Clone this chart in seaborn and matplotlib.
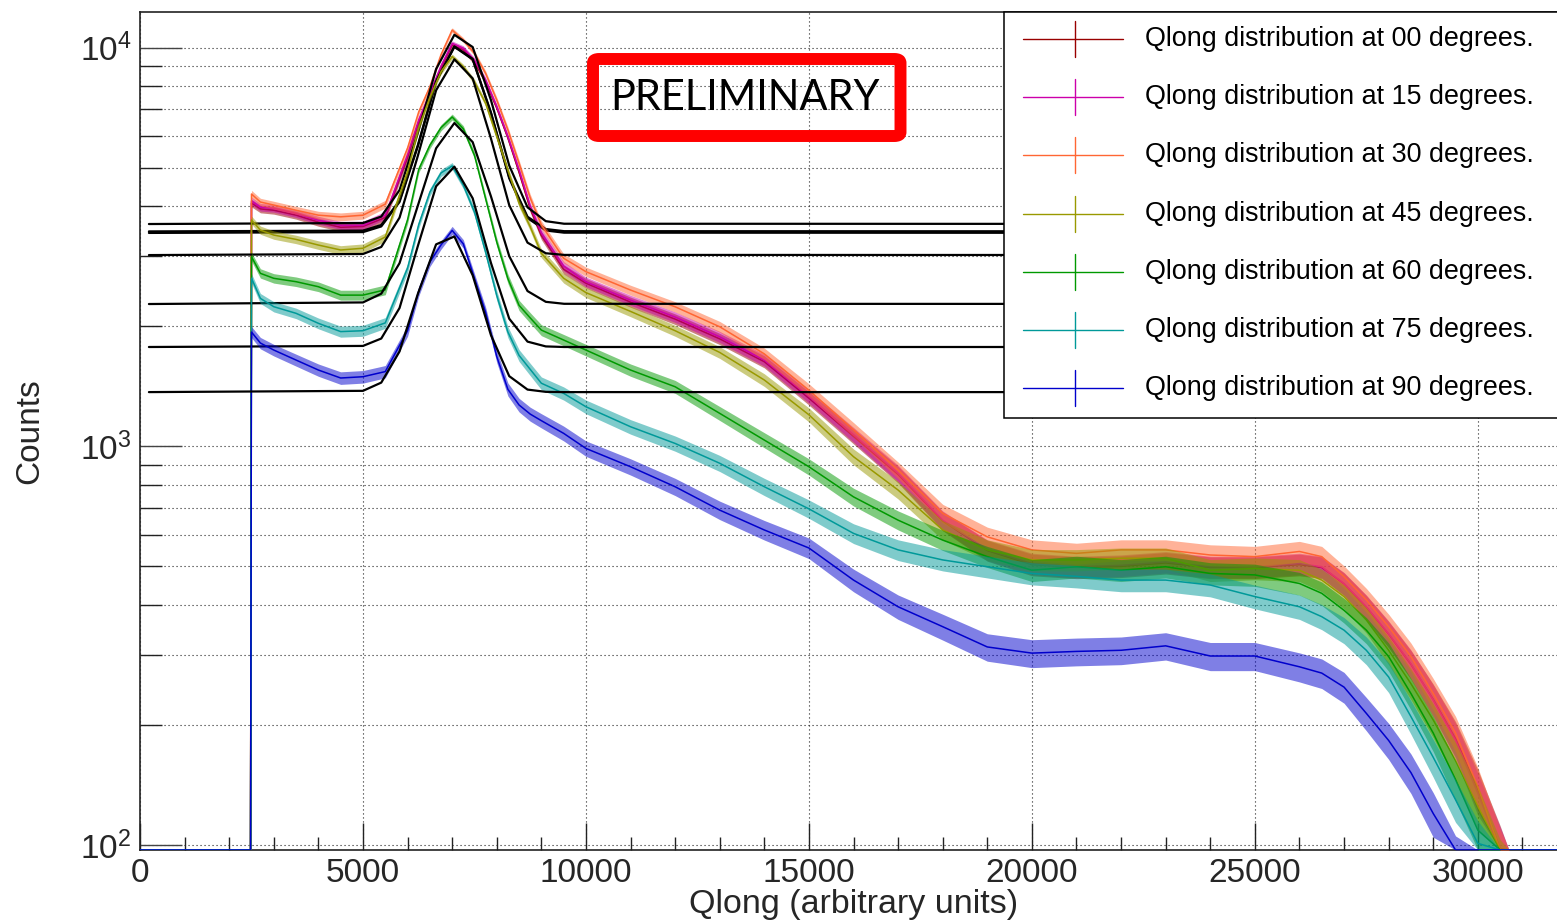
import numpy as np
import matplotlib
matplotlib.use("Agg")
import matplotlib.pyplot as plt
import seaborn as sns
from matplotlib.patches import Rectangle, FancyBboxPatch
from matplotlib.lines import Line2D
from matplotlib.ticker import LogLocator, MultipleLocator, NullFormatter, LogFormatterMathtext, FixedLocator

# ---------------------------------------------------------------- data
qlong = [0, 2480, 2500, 2700, 3000, 3500, 4000, 4500, 5000, 5500, 6000, 6250,
         6500, 6750, 7000, 7250, 7500, 7750, 8000, 8250, 8500, 8750, 9000, 9500,
         10000, 11000, 12000, 13000, 14000, 15000, 16000, 17000, 18000, 19000,
         20000, 21000, 22000, 23000, 24000, 25000, 26000, 26500, 27000, 27500,
         28000, 28500, 29000, 29500, 30000, 30500, 30700, 32000]

counts_00 = [0, 0, 4075, 3940, 3910, 3800, 3650, 3543, 3560, 3750, 5300, 6500,
             7600, 8900, 10150, 9880, 9200, 8210, 7060, 5935, 4870, 3950, 3380, 2780,
             2565, 2300, 2085, 1860, 1630, 1320, 1060, 850, 650, 548,
             505, 497, 500, 510, 497, 497, 505, 497, 452, 395,
             338, 284, 232, 185, 138, 98, 0, 0]
counts_15 = [0, 0, 4124, 3980, 3954, 3837, 3691, 3583, 3583, 3800, 5400, 6600,
             7680, 9000, 10250, 9970, 9310, 8295, 7110, 5977, 4932, 4000, 3430, 2833,
             2587, 2326, 2110, 1882, 1646, 1335, 1070, 856, 653, 550,
             508, 499, 503, 513, 499, 499, 508, 499, 453, 396,
             339, 285, 231, 183, 135, 97, 0, 0]
counts_30 = [0, 0, 4294, 4100, 4029, 3910, 3800, 3764, 3800, 4050, 5600, 6900,
             7980, 9600, 11070, 10450, 9680, 8620, 7390, 6215, 5126, 4200, 3594, 2963,
             2742, 2466, 2239, 1995, 1706, 1383, 1101, 872, 679, 593,
             550, 539, 550, 550, 534, 529, 545, 529, 471, 412,
             353, 297, 240, 191, 140, 96, 0, 0]
counts_45 = [0, 0, 3695, 3486, 3388, 3304, 3198, 3108, 3140, 3350, 4900, 6300,
             7500, 8700, 9500, 8950, 8210, 7250, 5980, 4930, 4070, 3555, 3050, 2640,
             2430, 2180, 1950, 1720, 1467, 1200, 942, 777, 617, 550,
             519, 519, 524, 524, 489, 494, 489, 462, 420, 367,
             308, 254, 206, 163, 125, 90, 0, 0]
counts_60 = [0, 0, 2990, 2716, 2639, 2588, 2514, 2395, 2395, 2470, 3700, 4950,
             5690, 6300, 6700, 6260, 5370, 4180, 3253, 2633, 2258, 2100, 1957, 1848,
             1744, 1554, 1411, 1210, 1037, 889, 747, 653, 582, 529,
             489, 499, 489, 499, 480, 476, 453, 428, 388, 346,
             297, 240, 191, 146, 109, 80, 0, 0]
counts_75 = [0, 0, 2640, 2350, 2240, 2156, 2035, 1940, 1950, 2040, 2800, 3600,
             4340, 4850, 5050, 4520, 3870, 3070, 2390, 1935, 1691, 1560, 1440, 1358,
             1257, 1120, 1017, 907, 792, 697, 605, 550, 519, 499,
             480, 472, 462, 462, 449, 420, 396, 374, 346, 308,
             264, 210, 166, 130, 101, 70, 0, 0]
counts_90 = [0, 0, 1935, 1816, 1744, 1646, 1554, 1484, 1495, 1540, 1950, 2450,
             2900, 3200, 3480, 3220, 2640, 2170, 1680, 1390, 1270, 1205, 1160, 1078,
             988, 889, 792, 692, 617, 556, 462, 396, 353, 314,
             303, 306, 308, 316, 298, 298, 280, 270, 249, 214,
             183, 152, 120, 92, 60, 0, 0, 0]

# gaus + constant fits, as drawn (sampled points)
fit_x = [200, 5000, 5410, 5820, 6230, 6640, 7050, 7460, 7870, 8280, 8690, 9100, 9510, 32000]
fit_00 = [3430, 3446, 3561, 4102, 5658, 8206, 10044, 9343, 6845, 4701, 3736, 3478, 3435, 3430]
fit_15 = [3460, 3476, 3591, 4132, 5688, 8236, 10074, 9373, 6875, 4731, 3766, 3508, 3465, 3460]
fit_30 = [3611, 3632, 3771, 4393, 6108, 8834, 10770, 10035, 7387, 5062, 3976, 3671, 3617, 3611]
fit_45 = [3018, 3037, 3163, 3746, 5350, 7818, 9347, 8370, 5917, 4026, 3243, 3050, 3021, 3018]
fit_60 = [2275, 2296, 2415, 2880, 4014, 5591, 6470, 5795, 4236, 2999, 2452, 2304, 2278, 2275]
fit_75 = [1775, 1786, 1864, 2223, 3178, 4489, 5029, 4190, 2884, 2090, 1831, 1781, 1775, 1775]
fit_90 = [1368, 1378, 1445, 1730, 2411, 3211, 3360, 2686, 1901, 1500, 1388, 1370, 1368, 1368]

angles = ["00", "15", "30", "45", "60", "75", "90"]
series = [counts_00, counts_15, counts_30, counts_45, counts_60, counts_75, counts_90]
fits = [fit_00, fit_15, fit_30, fit_45, fit_60, fit_75, fit_90]
colors = ["#990000", "#cc00aa", "#ff6633", "#999900", "#009900", "#009999", "#0000cc"]

x_ticks = [0, 5000, 10000, 15000, 20000, 25000, 30000]

# ---------------------------------------------------------------- style
sns.set_theme(style="white")
plt.rcParams["font.family"] = ["Liberation Sans", "DejaVu Sans"]
plt.rcParams["mathtext.fontset"] = "custom"
plt.rcParams["mathtext.rm"] = "Liberation Sans"
plt.rcParams["mathtext.it"] = "Liberation Sans:italic"
plt.rcParams["mathtext.bf"] = "Liberation Sans:bold"

W, H = 1557, 924
fig = plt.figure(figsize=(W / 100, H / 100), dpi=100)
fig.patch.set_facecolor("white")


def fx(px):
    return px / W


def fy(py):
    return 1 - py / H


ax_left, ax_right, ax_top, ax_bottom = 140, 1567, 12, 850
ax = fig.add_axes([fx(ax_left), fy(ax_bottom), (ax_right - ax_left) / W, (ax_bottom - ax_top) / H])
ax.set_facecolor("white")

y_lo, y_hi = 97.2, 12285
x_lo, x_hi = 0, 32000
ax.set_yscale("log")
ax.set_xlim(x_lo, x_hi)
ax.set_ylim(y_lo, y_hi)

# ---------------------------------------------------------------- histograms and fits
for i, (ang, cnt, fit, col) in enumerate(zip(angles, series, fits, colors)):
    cnt = np.asarray(cnt, dtype=float)
    err = np.sqrt(cnt)
    shown = np.clip(cnt, y_lo, None)
    lo = np.clip(cnt - 1.4 * err, y_lo, None)
    hi = np.clip(cnt + 1.4 * err, y_lo, None)
    z = 3 + 2 * i
    ax.fill_between(qlong, lo, hi, color=col, alpha=0.5, lw=0, zorder=z)
    sns.lineplot(x=qlong, y=shown, ax=ax, color=col, lw=1.1, estimator=None,
                 sort=False, legend=False, zorder=z + 0.5)
    sns.lineplot(x=fit_x, y=fit, ax=ax, color="black", lw=1.6, estimator=None,
                 sort=False, legend=False, zorder=z + 1)

# ---------------------------------------------------------------- axes decoration
ax.xaxis.set_major_locator(FixedLocator(x_ticks))
ax.xaxis.set_minor_locator(MultipleLocator(1000))
ax.yaxis.set_major_locator(LogLocator(base=10, numticks=10))
ax.yaxis.set_minor_locator(LogLocator(base=10, subs=np.arange(2, 10), numticks=20))
ax.yaxis.set_major_formatter(LogFormatterMathtext())
ax.yaxis.set_minor_formatter(NullFormatter())
ax.set_xticklabels([str(v) for v in x_ticks])

grid_kw = dict(color="#222222", lw=0.8, ls=(0, (1, 2.6)))
ax.xaxis.grid(True, which="major", **grid_kw)
ax.yaxis.grid(True, which="both", **grid_kw)
ax.set_axisbelow(True)

ax.tick_params(axis="y", which="major", direction="in", length=30, width=1.0,
               left=True, right=False, labelsize=24, pad=6, color="#444444")
ax.tick_params(axis="y", which="minor", direction="in", length=16, width=1.0,
               left=True, right=False, color="#222222")
ax.tick_params(axis="x", which="major", direction="in", length=19.5, width=1.0,
               bottom=True, top=False, labelsize=24, pad=6, color="#222222")
ax.tick_params(axis="x", which="minor", direction="in", length=9.5, width=1.0,
               bottom=True, top=False, color="#222222")

for side in ["left", "bottom", "top"]:
    ax.spines[side].set_color("#222222")
    ax.spines[side].set_linewidth(1.2)
ax.spines["right"].set_visible(False)

ax.set_xlabel("Qlong (arbitrary units)", fontsize=24.5)
ax.set_ylabel("Counts", fontsize=24)
ax.xaxis.label.set_va("center")
ax.yaxis.label.set_va("center")
ax.xaxis.set_label_coords(0.5, (ax_bottom - 905) / (ax_bottom - ax_top))
ax.yaxis.set_label_coords((30 - ax_left) / (ax_right - ax_left), 0.5)

# ---------------------------------------------------------------- legend
leg_left, leg_top, leg_bottom = 1004, 12, 418
fig.add_artist(Rectangle((fx(leg_left), fy(leg_bottom)), fx(700), fy(leg_top) - fy(leg_bottom),
                         transform=fig.transFigure, facecolor="white", edgecolor="black",
                         lw=1.1, zorder=50))
row0, row_step = 39, 58.2
for i, (ang, col) in enumerate(zip(angles, colors)):
    yc = row0 + i * row_step
    fig.add_artist(Line2D([fx(1023), fx(1123)], [fy(yc), fy(yc)], color=col, lw=1.0,
                          transform=fig.transFigure, zorder=51))
    fig.add_artist(Line2D([fx(1075), fx(1075)], [fy(yc - 18), fy(yc + 18)], color=col, lw=1.0,
                          transform=fig.transFigure, zorder=51))
    fig.text(fx(1145), fy(yc), f"Qlong distribution at {ang} degrees.", fontsize=19.4,
             va="center", ha="left", color="black", zorder=52)

# ---------------------------------------------------------------- preliminary stamp
fig.add_artist(FancyBboxPatch((fx(593), fy(136)), fx(900.5) - fx(593), fy(59) - fy(136),
                              boxstyle="round,pad=0,rounding_size=0.004",
                              transform=fig.transFigure, facecolor="none",
                              edgecolor="#ff0000", lw=8.6, joinstyle="round", zorder=60))
fig.text(fx(745), fy(98), "PRELIMINARY", fontsize=30, family="Lato", ha="center",
         va="center", color="black", zorder=61)

fig.savefig("out.png", dpi=100, facecolor="white")
